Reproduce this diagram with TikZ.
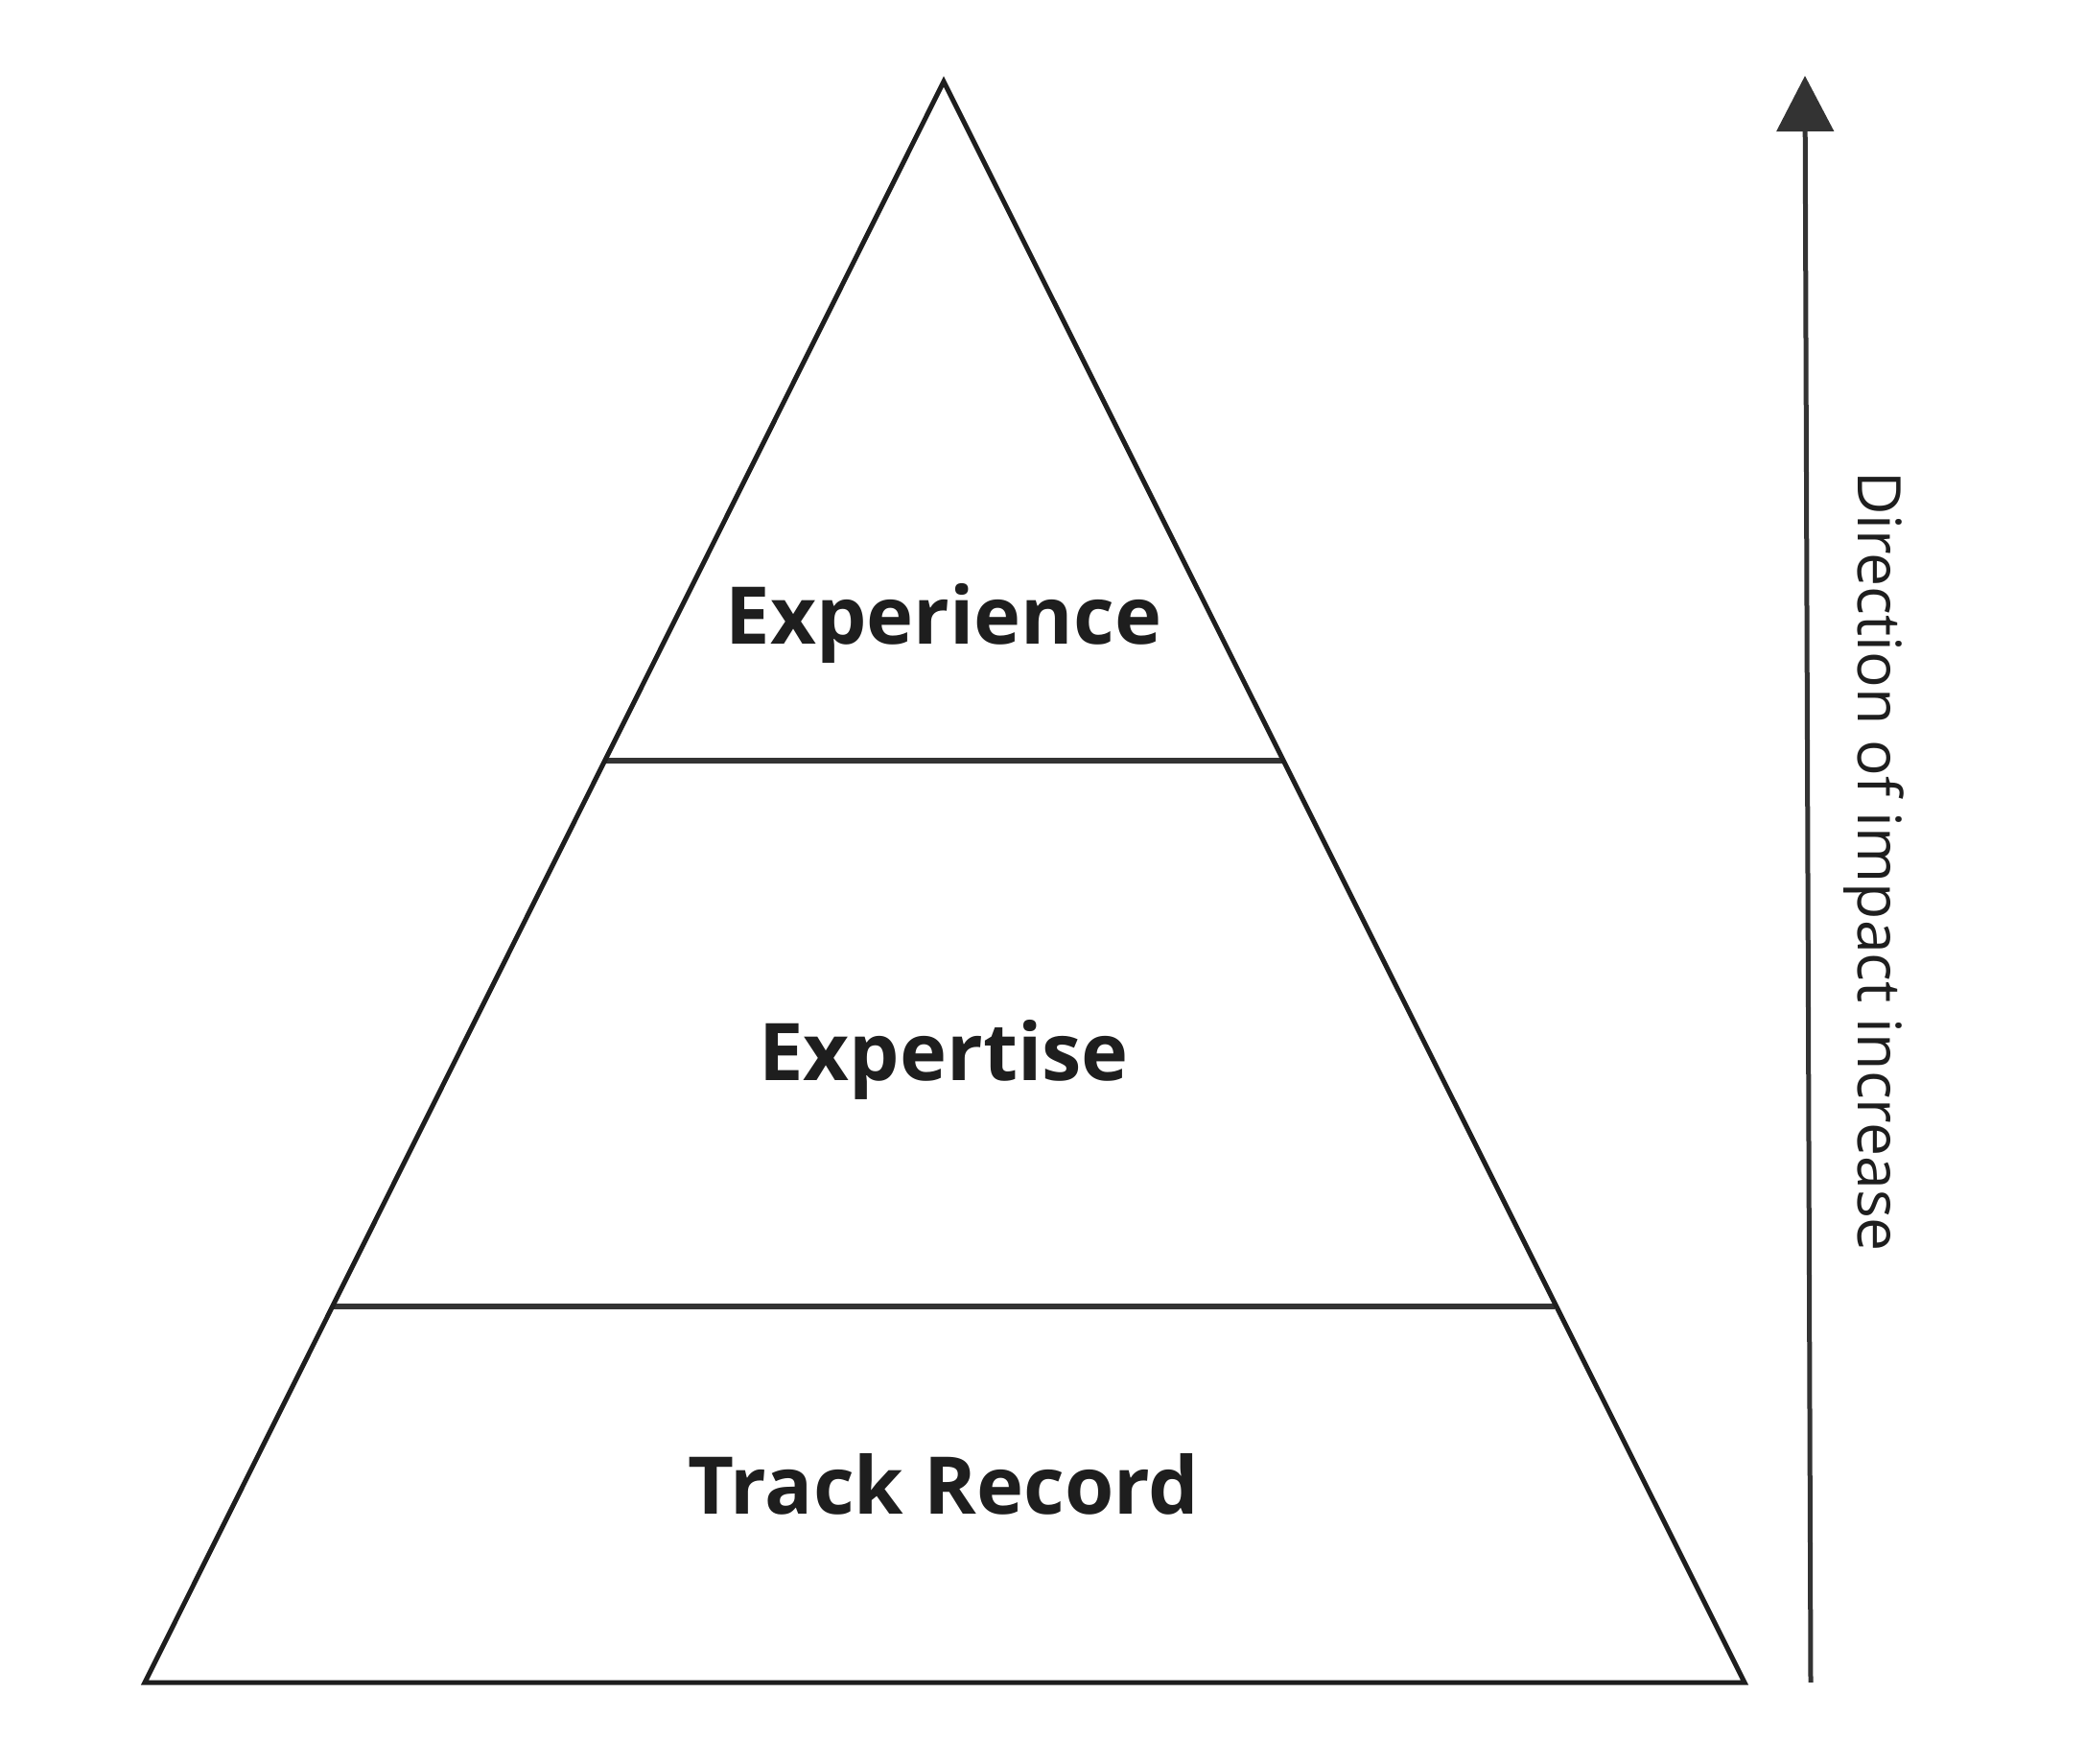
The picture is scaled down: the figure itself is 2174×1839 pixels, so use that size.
\documentclass[tikz,border=0pt]{standalone}
\usepackage{fontspec}
\setmainfont{Open Sans}
\usetikzlibrary{arrows.meta}
\definecolor{ink}{HTML}{1E1E1E}
\definecolor{mid}{HTML}{333333}
\begin{document}
\begin{tikzpicture}[x=1pt,y=-1pt,
  tri/.style={draw=ink,line width=5pt,line join=miter},
  sep/.style={draw=mid,line width=6pt},
  label/.style={font=\fontsize{83}{90}\selectfont\bfseries,text=ink,anchor=base,inner sep=0pt},
  side/.style={font=\fontsize{62.5}{70}\selectfont,text=ink,anchor=base,rotate=-90,inner sep=0pt},
  impact/.style={draw=mid,line width=5pt,-{Triangle[width=59pt,length=58pt]}}]
\useasboundingbox (0,0) rectangle (2174,1839);
\coordinate (apex) at (984,85);
\coordinate (bl) at (151,1754);
\coordinate (br) at (1819,1754);
\coordinate (l1a) at (630,793);
\coordinate (l1b) at (1338,793);
\coordinate (l2a) at (347,1362);
\coordinate (l2b) at (1621,1362);
\coordinate (abot) at (1888,1754);
\coordinate (atop) at (1882,79);
\draw[sep] (l1a) -- (l1b);
\draw[sep] (l2a) -- (l2b);
\draw[tri] (apex) -- (br) -- (bl) -- cycle;
\draw[impact] (abot) -- (atop);
\node[label] (exp) at (984,671) {Experience};
\node[label] (expt) at (984,1126) {Expertise};
\node[label] (track) at (984,1578) {Track Record};
\node[side] (dir) at (1937,898) {Direction of impact increase};
\end{tikzpicture}
\end{document}
